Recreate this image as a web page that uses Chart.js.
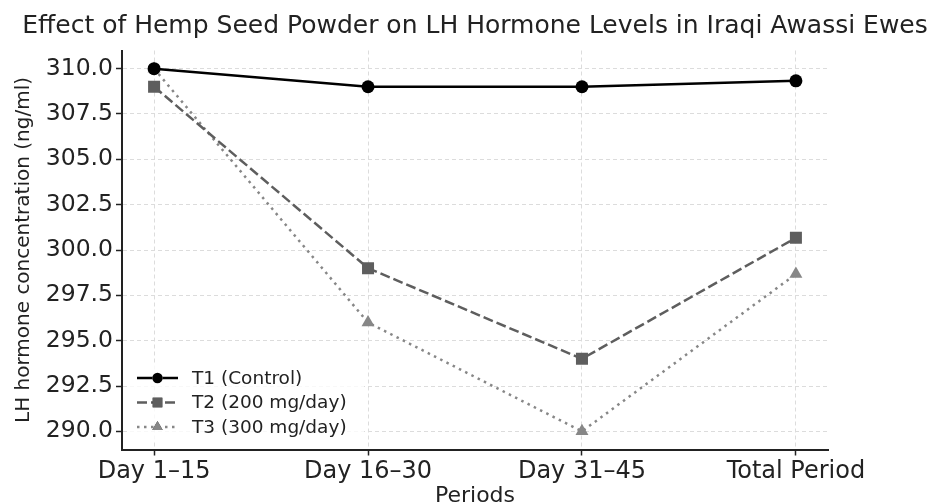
<!DOCTYPE html>
<html>
<head>
<meta charset="utf-8">
<script src="https://cdn.jsdelivr.net/npm/chart.js@4/dist/chart.umd.min.js"></script>
<style>
  body { margin: 0; background: #fff; }
  #wrap { width: 928px; height: 503px; position: relative; }
</style>
</head>
<body>
<div id="wrap"><canvas id="lhChart"></canvas></div>
<script>
const periods = ["Day 1–15", "Day 16–30", "Day 31–45", "Total Period"];
const t1Control = [310, 309, 309, 309.33];
const t2Dose200 = [309, 299, 294, 300.67];
const t3Dose300 = [310, 296, 290, 298.67];
const yTicks = [290, 292.5, 295, 297.5, 300, 302.5, 305, 307.5, 310];

const FONT = "'DejaVu Sans', sans-serif";
const TEXT = "#222";

const toPoints = arr => arr.map((v, i) => ({ x: i, y: v }));

// legend drawn inside the plot, lower left (like the original)
const innerLegend = {
    id: "innerLegend",
    afterDatasetsDraw(chart) {
        const { ctx, chartArea } = chart;
        const x0 = chartArea.left + 15;
        const rows = [chartArea.bottom - 71.5, chartArea.bottom - 47, chartArea.bottom - 22.5];
        ctx.save();
        ctx.fillStyle = "rgba(255,255,255,0.8)";
        ctx.fillRect(chartArea.left + 6, rows[0] - 14, 236, 76);
        chart.data.datasets.forEach((ds, i) => {
            const y = rows[i];
            ctx.strokeStyle = ds.borderColor;
            ctx.lineWidth = ds.borderWidth;
            ctx.lineCap = ds.borderCapStyle || "butt";
            ctx.setLineDash(ds.borderDash || []);
            ctx.beginPath();
            ctx.moveTo(x0, y);
            ctx.lineTo(x0 + 41, y);
            ctx.stroke();
            ctx.setLineDash([]);
            Chart.helpers.drawPoint(ctx, {
                pointStyle: ds.pointStyle,
                radius: ds.pointRadius * 0.8,
                rotation: 0,
                borderWidth: 0
            }, x0 + 20.5, y);
            ctx.fillStyle = ds.pointBackgroundColor;
            ctx.fill();
            ctx.fillStyle = TEXT;
            ctx.font = "18.5px " + FONT;
            ctx.textBaseline = "middle";
            ctx.textAlign = "left";
            ctx.fillText(ds.label, x0 + 55, y + 1);
        });
        ctx.restore();
    }
};

new Chart(document.getElementById("lhChart"), {
    type: "line",
    data: {
        datasets: [
            {
                label: "T1 (Control)",
                data: toPoints(t1Control),
                borderColor: "#000",
                backgroundColor: "#000",
                pointBackgroundColor: "#000",
                borderWidth: 2.5,
                pointStyle: "circle",
                pointRadius: 6.5,
                pointBorderWidth: 0
            },
            {
                label: "T2 (200 mg/day)",
                data: toPoints(t2Dose200),
                borderColor: "#5e5e5e",
                backgroundColor: "#5e5e5e",
                pointBackgroundColor: "#5e5e5e",
                borderWidth: 2.5,
                borderDash: [10, 4],
                pointStyle: "rect",
                pointRadius: 8.5,
                pointBorderWidth: 0
            },
            {
                label: "T3 (300 mg/day)",
                data: toPoints(t3Dose300),
                borderColor: "#878787",
                backgroundColor: "#878787",
                pointBackgroundColor: "#878787",
                borderWidth: 2.5,
                borderDash: [2.5, 4.5],
                pointStyle: "triangle",
                pointRadius: 7.5,
                pointBorderWidth: 0
            }
        ]
    },
    options: {
        responsive: true,
        maintainAspectRatio: false,
        animation: false,
        layout: { padding: { left: 22, right: 0, top: 0, bottom: 0 } },
        elements: { line: { tension: 0 } },
        plugins: {
            legend: { display: false },
            tooltip: { enabled: false },
            title: {
                display: true,
                text: "Effect of Hemp Seed Powder on LH Hormone Levels in Iraqi Awassi Ewes",
                color: TEXT,
                font: { family: FONT, size: 25, weight: "normal" },
                padding: { top: 11, bottom: 9.5 }
            }
        },
        scales: {
            x: {
                type: "linear",
                min: -0.15,
                max: 3.15,
                afterBuildTicks: scale => {
                    scale.ticks = periods.map((p, i) => ({ value: i }));
                },
                afterFit: scale => { scale.height = 53.5; },
                ticks: {
                    autoSkip: false,
                    maxRotation: 0,
                    color: TEXT,
                    padding: 2,
                    font: { family: FONT, size: 24 },
                    callback: v => periods[v]
                },
                grid: {
                    color: "#dcdcdc",
                    tickColor: "#222",
                    tickLength: 6,
                    tickWidth: 1.5,
                    tickBorderDash: []
                },
                border: { color: "#222", width: 2, dash: [4, 3] },
                title: {
                    display: true,
                    text: "Periods",
                    color: TEXT,
                    font: { family: FONT, size: 22 },
                    padding: { top: 0, bottom: -6 }
                }
            },
            y: {
                min: 289,
                max: 311,
                afterBuildTicks: scale => {
                    scale.ticks = yTicks.map(v => ({ value: v }));
                },
                afterFit: scale => { scale.width = 100; },
                ticks: {
                    autoSkip: false,
                    color: TEXT,
                    padding: 3,
                    font: { family: FONT, size: 23.5 },
                    callback: v => v.toFixed(1)
                },
                grid: {
                    color: "#dcdcdc",
                    tickColor: "#222",
                    tickLength: 6,
                    tickWidth: 1.5,
                    tickBorderDash: []
                },
                border: { color: "#222", width: 2, dash: [4, 3] },
                title: {
                    display: true,
                    text: "LH hormone concentration (ng/ml)",
                    color: TEXT,
                    font: { family: FONT, size: 20 },
                    padding: { top: -10, bottom: 0 }
                }
            },
            // empty right axis, only keeps the white margin on the right
            spacer: {
                position: "right",
                display: true,
                afterFit: scale => { scale.width = 100; },
                ticks: { display: false },
                grid: { display: false, drawTicks: false },
                border: { display: false },
                title: { display: false }
            }
        }
    },
    plugins: [innerLegend]
});
</script>
</body>
</html>
